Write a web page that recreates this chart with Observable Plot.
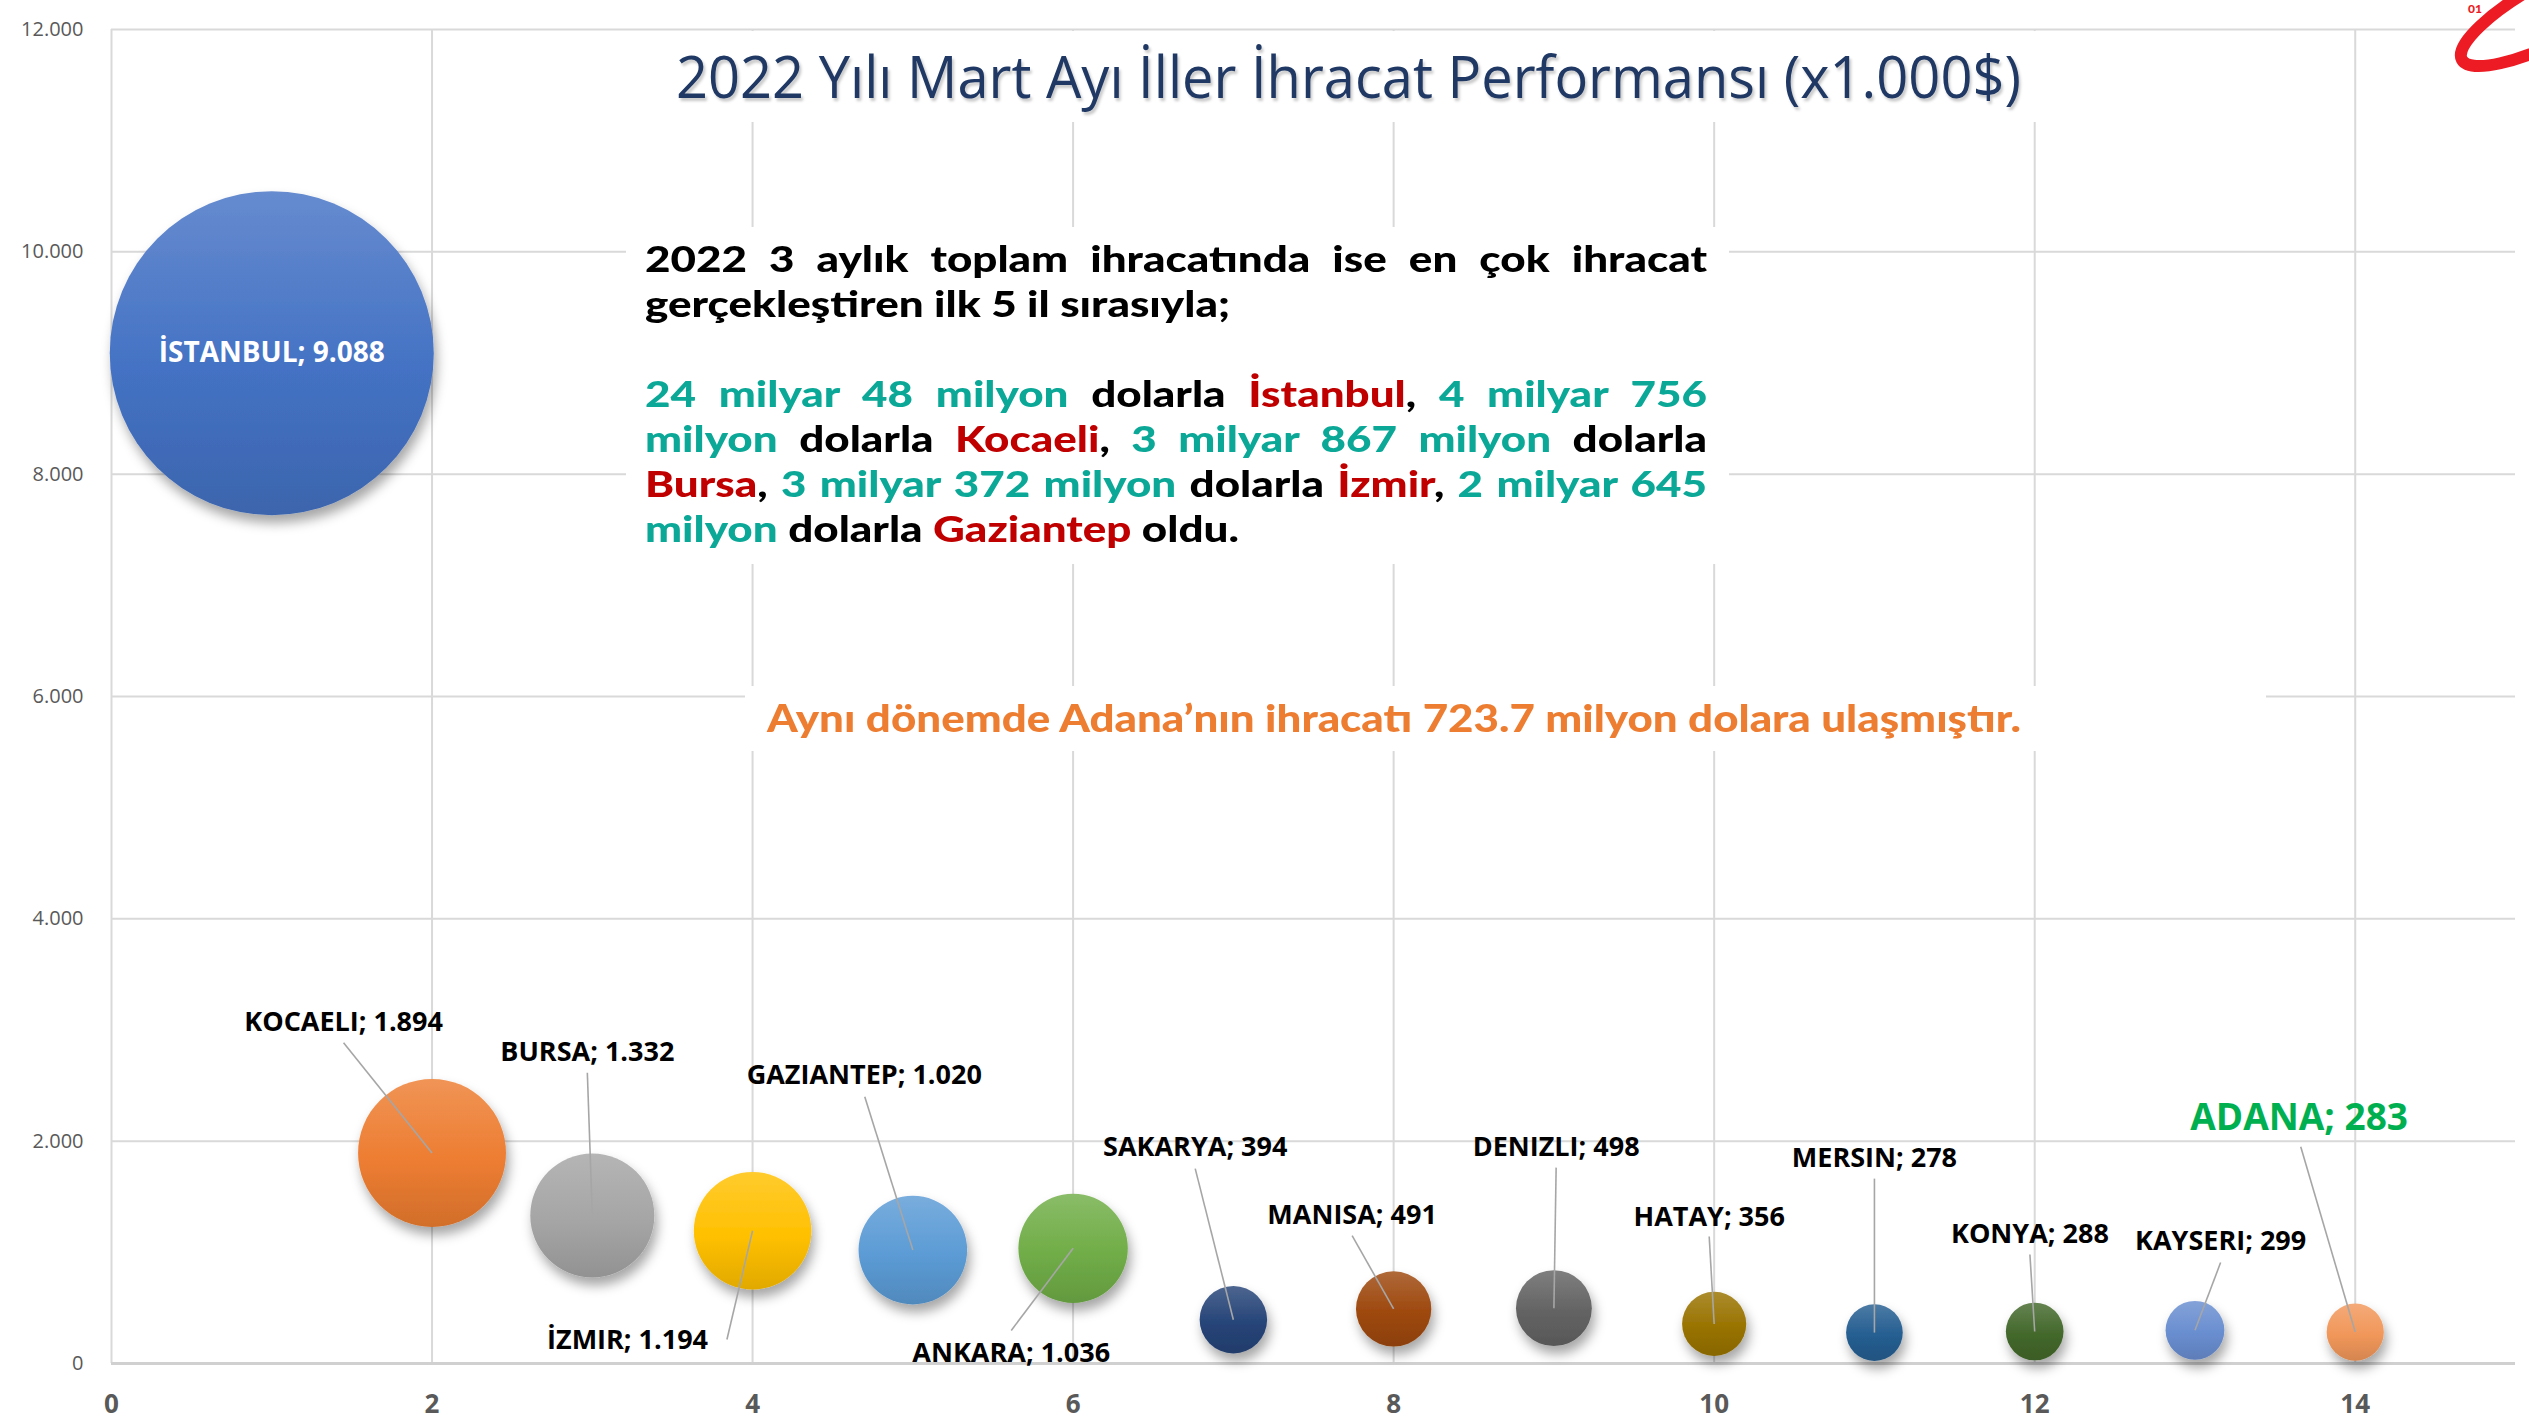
<!DOCTYPE html>
<html><head><meta charset="utf-8">
<script src="https://cdn.jsdelivr.net/npm/d3@7"></script>
<script src="https://cdn.jsdelivr.net/npm/@observablehq/plot@0.6"></script>
<style>
html,body{margin:0;padding:0;background:#fff;}
#wrap{position:relative;width:2529px;height:1420px;overflow:hidden;background:#fff;}
#chart{position:absolute;left:0;top:0;}
.box{position:absolute;background:#fff;}
.fit{position:absolute;white-space:nowrap;transform-origin:0 50%;line-height:1.2;}
#title{font-family:"Open Sans","Noto Sans",sans-serif;font-size:59px;color:#1F3864;text-shadow:2px 3px 3px rgba(0,0,0,0.22);}
#note{font-family:Lato,sans-serif;font-weight:900;font-size:37px;color:#ED7D31;}
#para{position:absolute;left:645px;top:236px;transform-origin:0 0;font-family:Lato,sans-serif;font-weight:900;font-size:36px;line-height:45px;color:#000;white-space:nowrap;}
#para .j{text-align:justify;text-align-last:justify;white-space:normal;}
#para .n{display:inline-block;}
.t{color:#0BA898}.r{color:#C00000}
</style></head><body>
<div id="wrap">
<div id="chart"></div>
<div class="box" style="left:626px;top:31px;width:1446px;height:91px"></div>
<div class="box" style="left:626px;top:227px;width:1103px;height:337px"></div>
<div class="box" style="left:745px;top:686px;width:1521px;height:65px"></div>
<div id="title" class="fit">2022 Yılı Mart Ayı İller İhracat Performansı (x1.000$)</div>
<div id="para">
<div class="j">2022 3 aylık toplam ihracatında ise en çok ihracat</div>
<div><span class="n" id="l2">gerçekleştiren ilk 5 il sırasıyla;</span></div>
<div>&nbsp;</div>
<div class="j"><span class="t">24 milyar 48 milyon</span> dolarla <span class="r">İstanbul</span>, <span class="t">4 milyar 756</span></div>
<div class="j"><span class="t">milyon</span> dolarla <span class="r">Kocaeli</span>, <span class="t">3 milyar 867 milyon</span> dolarla</div>
<div class="j"><span class="r">Bursa</span>, <span class="t">3 milyar 372 milyon</span> dolarla <span class="r">İzmir</span>, <span class="t">2 milyar 645</span></div>
<div><span class="t">milyon</span> dolarla <span class="r">Gaziantep</span> oldu.</div>
</div>
<div id="note" class="fit">Aynı dönemde Adana’nın ihracatı 723.7 milyon dolara ulaşmıştır.</div>
<svg style="position:absolute;left:2440px;top:0" width="89" height="95">
  <ellipse cx="119" cy="8" rx="110" ry="30" transform="rotate(-28 119 8)" fill="none" stroke="#ED1C24" stroke-width="12"/>
  <text x="28" y="13" font-family="Lato,sans-serif" font-weight="900" font-size="12" fill="#ED1C24">01</text>
</svg>
</div>
<script>
// ---- data ----
const cities = ["İSTANBUL","KOCAELI","BURSA","İZMIR","GAZIANTEP","ANKARA","SAKARYA","MANISA","DENIZLI","HATAY","MERSIN","KONYA","KAYSERI","ADANA"];
const xPos = [1,2,3,4,5,6,7,8,9,10,11,12,13,14];
const exportsK = [9088,1894,1332,1194,1020,1036,394,491,498,356,278,288,299,283];
const colors = ["#4472C4","#ED7D31","#A5A5A5","#FFC000","#5B9BD5","#70AD47","#264478","#9E480E","#636363","#997300","#255E91","#43682B","#698ED0","#F1975A"];
const xTicks = [0,2,4,6,8,10,12,14];
const yTicks = [0,2000,4000,6000,8000,10000,12000];
// label anchor points (data units)
const labelX = [1,1.448,2.969,3.22,4.697,5.614,6.762,7.741,9.014,9.969,11.0,11.97,13.16,13.65];
const labelY = [9088,3065,2796,207,2589,90,1944,1330,1942,1312,1843,1160,1097,2211];
const leadX = [null,1.448,2.969,3.84,4.70,5.614,6.762,7.741,9.014,9.969,11.0,11.97,13.16,13.66];
const leadY = [null,2885,2616,216,2400,297,1753,1150,1762,1142,1663,980,908,1950];

const fmt = v => d3.format(",")(v).replace(/,/g, ".");
const data = cities.map((c, i) => ({i, city: c, x: xPos[i], v: exportsK[i],
  lx: labelX[i], ly: labelY[i], sx: leadX[i], sy: leadY[i], label: `${c}; ${fmt(exportsK[i])}`}));
const leaders = data.filter(d => d.sx != null);
const small = data.filter(d => d.i > 0 && d.city !== "ADANA");
const adana = data.filter(d => d.city === "ADANA");
const ist = data.filter(d => d.i === 0);
const face = "'Open Sans','Noto Sans',sans-serif";

const svg = Plot.plot({
  width: 2529, height: 1420,
  marginLeft: 111, marginRight: 14, marginTop: 29, marginBottom: 57,
  x: {domain: [0, 15], axis: null},
  y: {domain: [0, 12000], axis: null},
  r: {domain: [0, d3.max(exportsK)], range: [0, 162]},
  color: {type: "identity"},
  marks: [
    Plot.ruleX(xTicks, {stroke: "#D9D9D9", strokeWidth: 2}),
    Plot.ruleY(yTicks, {stroke: "#D9D9D9", strokeWidth: 2}),
    Plot.ruleY([0], {stroke: "#D0D0D0", strokeWidth: 3}),
    Plot.text(yTicks, {y: d => d, frameAnchor: "left", textAnchor: "end", dx: -28, text: fmt,
      fill: "#595959", fontSize: 20, fontFamily: face, ariaLabel: "ytick"}),
    Plot.text(xTicks, {x: d => d, frameAnchor: "bottom", dy: 49, text: d => String(d),
      fill: "#595959", fontSize: 26, fontWeight: "bold", fontFamily: face, ariaLabel: "xtick"}),
    Plot.dot(data, {x: "x", y: "v", r: "v", fill: d => `url(#g${d.i})`, stroke: "none"}),
    Plot.link(leaders, {x1: "sx", y1: "sy", x2: "x", y2: "v", stroke: "#A6A6A6", strokeWidth: 1.6}),
    Plot.text(small, {x: "lx", y: "ly", text: "label", fill: "#000", fontSize: 27, fontWeight: "bold", fontFamily: face, ariaLabel: "lab"}),
    Plot.text(adana, {x: "lx", y: "ly", text: "label", fill: "#00B050", fontSize: 37, fontWeight: "bold", fontFamily: face, ariaLabel: "adana"}),
    Plot.text(ist, {x: "lx", y: "ly", text: "label", fill: "#FFFFFF", fontSize: 28, fontWeight: "bold", fontFamily: face, ariaLabel: "ist"})
  ]
});
const defs = d3.select(svg).insert("defs", ":first-child");
colors.forEach((c, i) => {
  const g = defs.append("linearGradient").attr("id", `g${i}`).attr("x1", 0).attr("y1", 0).attr("x2", 0).attr("y2", 1);
  g.append("stop").attr("offset", "0%").attr("stop-color", d3.interpolateRgb(c, "#fff")(0.18));
  g.append("stop").attr("offset", "55%").attr("stop-color", c);
  g.append("stop").attr("offset", "100%").attr("stop-color", d3.color(c).darker(0.35).formatHex());
});
const f = defs.append("filter").attr("id", "shadow").attr("x", "-30%").attr("y", "-30%").attr("width", "170%").attr("height", "180%");
f.append("feDropShadow").attr("dx", 3).attr("dy", 8).attr("stdDeviation", 6).attr("flood-color", "#000").attr("flood-opacity", 0.35);
d3.select(svg).selectAll('g[aria-label="dot"] circle').attr("filter", "url(#shadow)");
document.getElementById("chart").appendChild(svg);

// condense label text horizontally (Calibri-like width)
function squeeze(label, refText, target) {
  const nodes = d3.select(svg).selectAll(`g[aria-label="${label}"] text`).nodes();
  if (!nodes.length) return;
  const ref = nodes.find(n => n.textContent === refText) || nodes[0];
  const s = target / ref.getComputedTextLength();
  nodes.forEach(n => {
    const t = n.getAttribute("transform") || "";
    const x = +(n.getAttribute("x") || 0), y = +(n.getAttribute("y") || 0);
    n.removeAttribute("x"); n.removeAttribute("y");
    n.setAttribute("transform", `${t} translate(${x},${y}) scale(${s},1)`);
  });
}
squeeze("lab", "KOCAELI; 1.894", 184);
squeeze("adana", "ADANA; 283", 218);
squeeze("ist", "İSTANBUL; 9.088", 202);
squeeze("ytick", "12.000", 67);
squeeze("xtick", "14", 33);

function fit(id, left, right, cy) {
  const el = document.getElementById(id);
  const r = el.getBoundingClientRect();
  el.style.left = left + "px";
  el.style.top = (cy - r.height / 2) + "px";
  el.style.transform = `scaleX(${(right - left) / r.width})`;
}
fit("title", 676, 2021, 75);
fit("note", 767, 2021, 718);
const para = document.getElementById("para");
const w2 = document.getElementById("l2").getBoundingClientRect().width;
const s = 585 / w2;
para.style.width = (1062 / s) + "px";
para.style.transform = `scaleX(${s})`;
</script>
</body></html>
